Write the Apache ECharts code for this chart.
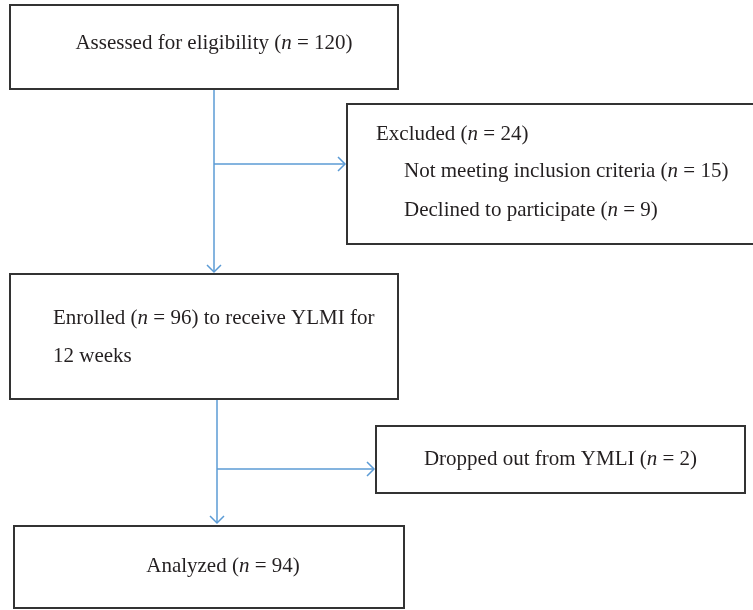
<!DOCTYPE html>
<html>
<head>
<meta charset="utf-8">
<style>
  html, body { margin: 0; padding: 0; background: #fff; }
  #flowChart { width: 753px; height: 610px; }
</style>
<script src="https://cdn.jsdelivr.net/npm/echarts@6/dist/echarts.min.js"></script>
</head>
<body>
<div id="flowChart"></div>
<script>
// 流程数据
const stageNames = ['Assessed for eligibility', 'Enrolled', 'Analyzed'];
const stageCounts = [120, 96, 94];
const excludedCount = 24;
const exclusionReasons = ['Not meeting inclusion criteria', 'Declined to participate'];
const exclusionCounts = [15, 9];
const droppedLabel = 'Dropped out from YMLI';
const droppedCount = 2;

// 布局（像素）
const boxes = {
    assessed: { x: 10, y: 5, w: 388, h: 84 },
    excluded: { x: 347, y: 104, w: 420, h: 140 },
    enrolled: { x: 10, y: 274, w: 388, h: 125 },
    dropped: { x: 376, y: 426, w: 369, h: 67 },
    analyzed: { x: 14, y: 526, w: 390, h: 82 }
};

const FONT = '"Liberation Serif", "DejaVu Serif", serif';
const FONT_SIZE = 21;
const TEXT_COLOR = '#231f20';
const LINE_COLOR = '#5b9bd5';
const BOX_COLOR = '#333333';

function nText(label, n) {
    return label + ' ({i|n} = ' + n + ')';
}

function textEl(text, x, y, align) {
    return {
        type: 'text',
        style: {
            text: text,
            x: x,
            y: y,
            align: align || 'left',
            verticalAlign: 'middle',
            fill: TEXT_COLOR,
            font: FONT_SIZE + 'px ' + FONT,
            rich: {
                i: { fontStyle: 'italic', fontSize: FONT_SIZE, fontFamily: FONT, fill: TEXT_COLOR }
            }
        }
    };
}

function rectEl(b) {
    return {
        type: 'rect',
        shape: { x: b.x, y: b.y, width: b.w, height: b.h },
        style: { fill: '#fff', stroke: BOX_COLOR, lineWidth: 2 }
    };
}

function lineEl(x1, y1, x2, y2) {
    return {
        type: 'line',
        shape: { x1: x1, y1: y1, x2: x2, y2: y2 },
        style: { stroke: LINE_COLOR, lineWidth: 1.5 }
    };
}

// 开口箭头
function arrowHead(x, y, dir) {
    const s = 7;
    let pts;
    if (dir === 'down') pts = [[x - s, y - s], [x, y], [x + s, y - s]];
    else pts = [[x - s, y - s], [x, y], [x - s, y + s]];
    return {
        type: 'polyline',
        shape: { points: pts },
        style: { stroke: LINE_COLOR, lineWidth: 1.5, fill: null }
    };
}

function initFlowChart() {
    const chartDom = document.getElementById('flowChart');
    const myChart = echarts.init(chartDom);

    const b = boxes;
    const elements = [];

    // 连接线
    elements.push(lineEl(214, b.assessed.y + b.assessed.h, 214, b.enrolled.y - 2));
    elements.push(arrowHead(214, b.enrolled.y - 2, 'down'));
    elements.push(lineEl(214, 164, b.excluded.x - 2, 164));
    elements.push(arrowHead(b.excluded.x - 2, 164, 'right'));

    elements.push(lineEl(217, b.enrolled.y + b.enrolled.h, 217, b.analyzed.y - 3));
    elements.push(arrowHead(217, b.analyzed.y - 3, 'down'));
    elements.push(lineEl(217, 469, b.dropped.x - 2, 469));
    elements.push(arrowHead(b.dropped.x - 2, 469, 'right'));

    // 方框
    Object.keys(b).forEach(k => elements.push(rectEl(b[k])));

    // 文字
    elements.push(textEl(nText(stageNames[0], stageCounts[0]), 214, 43, 'center'));

    elements.push(textEl(nText('Excluded', excludedCount), 376, 134));
    exclusionReasons.forEach((r, i) => {
        elements.push(textEl(nText(r, exclusionCounts[i]), 404, 171 + i * 39));
    });

    elements.push(textEl(nText(stageNames[1], stageCounts[1]) + ' to receive YLMI for', 53, 318));
    elements.push(textEl('12 weeks', 53, 356));

    elements.push(textEl(nText(droppedLabel, droppedCount), b.dropped.x + b.dropped.w / 2, 459, 'center'));

    elements.push(textEl(nText(stageNames[2], stageCounts[2]), 223, 566, 'center'));

    const option = {
        backgroundColor: '#fff',
        graphic: { elements: elements }
    };

    myChart.setOption(option);
    window.addEventListener('resize', () => myChart.resize());
}

window.addEventListener('DOMContentLoaded', initFlowChart);
</script>
</body>
</html>
